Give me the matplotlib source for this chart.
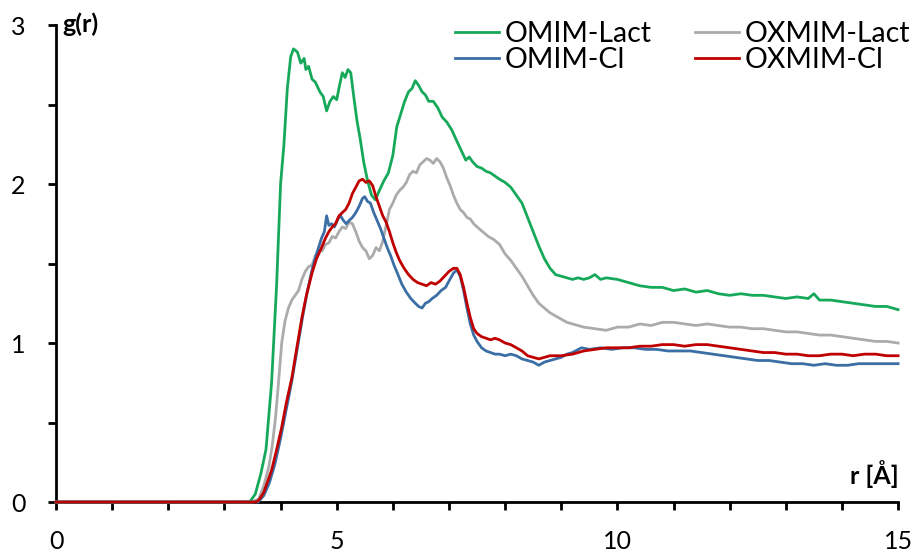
import matplotlib.pyplot as plt
from matplotlib.ticker import MultipleLocator

plt.rcParams['font.family'] = ['Lato', 'DejaVu Sans']

# Radial distribution functions.
r_omim_lact = [0, 3.45, 3.55, 3.65, 3.74, 3.84, 3.93, 4.0, 4.06, 4.12, 4.18, 4.23, 4.3, 4.36,
               4.42, 4.45, 4.5, 4.56, 4.62, 4.7, 4.76, 4.82, 4.88, 4.94, 5.0, 5.05, 5.1, 5.15,
               5.2, 5.25, 5.3, 5.36, 5.42, 5.48, 5.55, 5.62, 5.69, 5.76, 5.84, 5.92, 6.0, 6.07,
               6.14, 6.21, 6.28, 6.34, 6.4, 6.46, 6.52, 6.58, 6.64, 6.72, 6.8, 6.88, 6.96, 7.05,
               7.14, 7.22, 7.3, 7.36, 7.42, 7.5, 7.58, 7.66, 7.74, 7.82, 7.9, 8.0, 8.1, 8.2, 8.3,
               8.4, 8.5, 8.6, 8.7, 8.8, 8.9, 9.0, 9.1, 9.2, 9.3, 9.4, 9.5, 9.6, 9.7, 9.8, 10.0,
               10.2, 10.4, 10.6, 10.8, 11.0, 11.2, 11.4, 11.6, 11.8, 12.0, 12.2, 12.4, 12.6,
               12.8, 13.0, 13.2, 13.4, 13.5, 13.6, 13.8, 14.0, 14.2, 14.4, 14.6, 14.8, 15.0]
g_omim_lact = [0, 0, 0.05, 0.18, 0.33, 0.75, 1.37, 2.0, 2.25, 2.6, 2.8, 2.85, 2.83, 2.76,
               2.79, 2.72, 2.74, 2.66, 2.64, 2.58, 2.55, 2.46, 2.52, 2.55, 2.53, 2.62, 2.70, 2.67,
               2.72, 2.70, 2.56, 2.40, 2.28, 2.14, 2.02, 1.93, 1.90, 1.96, 2.02, 2.07, 2.18, 2.36,
               2.44, 2.52, 2.58, 2.60, 2.65, 2.62, 2.58, 2.56, 2.52, 2.52, 2.48, 2.42, 2.39, 2.34,
               2.27, 2.21, 2.15, 2.17, 2.14, 2.11, 2.10, 2.08, 2.07, 2.05, 2.03, 2.01, 1.98, 1.93,
               1.88, 1.79, 1.70, 1.61, 1.53, 1.47, 1.43, 1.42, 1.41, 1.40, 1.41, 1.40, 1.41, 1.43,
               1.40, 1.41, 1.40, 1.38, 1.36, 1.35, 1.35, 1.33, 1.34, 1.32, 1.33, 1.31, 1.30, 1.31,
               1.30, 1.30, 1.29, 1.28, 1.29, 1.28, 1.31, 1.27, 1.27, 1.26, 1.25, 1.24, 1.23, 1.23,
               1.21]

r_oxmim_lact = [0, 3.5, 3.61, 3.7, 3.79, 3.85, 3.91, 3.97, 4.02, 4.08, 4.14, 4.2, 4.26, 4.32,
                4.38, 4.44, 4.5, 4.56, 4.62, 4.68, 4.74, 4.8, 4.86, 4.92, 4.98, 5.04, 5.1, 5.16,
                5.22, 5.28, 5.34, 5.4, 5.46, 5.52, 5.58, 5.64, 5.7, 5.76, 5.82, 5.88, 5.94, 6.0,
                6.06, 6.12, 6.18, 6.24, 6.3, 6.36, 6.42, 6.48, 6.54, 6.6, 6.66, 6.72, 6.78, 6.84,
                6.9, 6.96, 7.02, 7.08, 7.14, 7.2, 7.26, 7.32, 7.38, 7.44, 7.5, 7.6, 7.7, 7.8, 7.9,
                8.0, 8.1, 8.2, 8.3, 8.4, 8.5, 8.6, 8.7, 8.8, 8.9, 9.0, 9.1, 9.2, 9.3, 9.4, 9.6, 9.8,
                10.0, 10.2, 10.4, 10.6, 10.8, 11.0, 11.2, 11.4, 11.6, 11.8, 12.0, 12.2, 12.4, 12.6,
                12.8, 13.0, 13.2, 13.4, 13.6, 13.8, 14.0, 14.2, 14.4, 14.6, 14.8, 15.0]
g_oxmim_lact = [0, 0, 0.02, 0.10, 0.22, 0.35, 0.53, 0.78, 1.0, 1.14, 1.22, 1.27, 1.30, 1.33,
                1.40, 1.45, 1.48, 1.49, 1.55, 1.58, 1.58, 1.62, 1.63, 1.67, 1.66, 1.70, 1.73, 1.72,
                1.76, 1.75, 1.70, 1.64, 1.60, 1.58, 1.53, 1.55, 1.60, 1.58, 1.64, 1.74, 1.84, 1.88,
                1.93, 1.96, 1.98, 2.01, 2.06, 2.08, 2.07, 2.12, 2.14, 2.16, 2.15, 2.13, 2.16, 2.14,
                2.10, 2.04, 1.99, 1.93, 1.88, 1.84, 1.82, 1.79, 1.78, 1.75, 1.73, 1.70, 1.67, 1.65,
                1.62, 1.56, 1.52, 1.47, 1.42, 1.36, 1.30, 1.25, 1.22, 1.19, 1.17, 1.15, 1.13, 1.12,
                1.11, 1.10, 1.09, 1.08, 1.10, 1.10, 1.12, 1.11, 1.13, 1.13, 1.12, 1.11, 1.12, 1.11,
                1.10, 1.10, 1.09, 1.09, 1.08, 1.07, 1.07, 1.06, 1.05, 1.05, 1.04, 1.03, 1.02, 1.01,
                1.01, 1.00]

r_omim_cl = [0, 3.6, 3.7, 3.8, 3.9, 4.0, 4.1, 4.2, 4.3, 4.4, 4.48, 4.56, 4.64, 4.73, 4.78, 4.82,
             4.86, 4.91, 4.96, 5.02, 5.07, 5.12, 5.17, 5.22, 5.28, 5.34, 5.4, 5.46, 5.5, 5.55,
             5.6, 5.66, 5.72, 5.78, 5.84, 5.9, 5.96, 6.02, 6.08, 6.16, 6.24, 6.32, 6.4, 6.46,
             6.52, 6.58, 6.64, 6.7, 6.78, 6.86, 6.94, 7.0, 7.08, 7.14, 7.2, 7.26, 7.32, 7.38,
             7.44, 7.5, 7.58, 7.66, 7.74, 7.82, 7.9, 8.0, 8.1, 8.2, 8.3, 8.4, 8.5, 8.6, 8.7, 8.8,
             8.9, 9.0, 9.1, 9.2, 9.36, 9.5, 9.7, 9.9, 10.1, 10.3, 10.5, 10.7, 10.9, 11.1, 11.3,
             11.5, 11.7, 11.9, 12.1, 12.3, 12.5, 12.7, 12.9, 13.1, 13.3, 13.5, 13.7, 13.9, 14.1,
             14.3, 14.5, 14.7, 15.0]
g_omim_cl = [0, 0, 0.04, 0.12, 0.24, 0.40, 0.58, 0.76, 0.97, 1.18, 1.33, 1.46, 1.56, 1.66, 1.70,
             1.80, 1.74, 1.75, 1.73, 1.78, 1.80, 1.77, 1.75, 1.77, 1.79, 1.82, 1.86, 1.91, 1.92,
             1.89, 1.88, 1.82, 1.77, 1.72, 1.66, 1.60, 1.55, 1.49, 1.44, 1.37, 1.32, 1.28, 1.25,
             1.23, 1.22, 1.25, 1.26, 1.28, 1.30, 1.33, 1.35, 1.39, 1.44, 1.46, 1.42, 1.33, 1.22,
             1.12, 1.05, 1.01, 0.97, 0.95, 0.94, 0.93, 0.93, 0.92, 0.93, 0.92, 0.90, 0.89, 0.88,
             0.86, 0.88, 0.89, 0.90, 0.91, 0.93, 0.94, 0.97, 0.96, 0.97, 0.96, 0.97, 0.97, 0.96,
             0.96, 0.95, 0.95, 0.95, 0.94, 0.93, 0.92, 0.91, 0.90, 0.89, 0.89, 0.88, 0.87, 0.87,
             0.86, 0.87, 0.86, 0.86, 0.87, 0.87, 0.87, 0.87]

r_oxmim_cl = [0, 3.55, 3.61, 3.7, 3.77, 3.84, 3.93, 4.02, 4.1, 4.2, 4.28, 4.38, 4.46, 4.56,
              4.64, 4.73, 4.8, 4.86, 4.92, 4.98, 5.04, 5.1, 5.16, 5.22, 5.28, 5.34, 5.4, 5.46,
              5.52, 5.58, 5.64, 5.7, 5.76, 5.82, 5.88, 5.94, 6.0, 6.06, 6.12, 6.2, 6.28, 6.36,
              6.44, 6.52, 6.6, 6.68, 6.76, 6.84, 6.92, 7.0, 7.08, 7.14, 7.2, 7.26, 7.32, 7.38,
              7.44, 7.5, 7.58, 7.66, 7.74, 7.82, 7.9, 8.0, 8.1, 8.2, 8.3, 8.4, 8.5, 8.6, 8.7, 8.8,
              9.0, 9.2, 9.4, 9.6, 9.8, 10.0, 10.2, 10.4, 10.6, 10.8, 11.0, 11.2, 11.4, 11.6, 11.8,
              12.0, 12.2, 12.4, 12.6, 12.8, 13.0, 13.2, 13.4, 13.6, 13.8, 14.0, 14.2, 14.4, 14.6,
              14.8, 15.0]
g_oxmim_cl = [0, 0, 0.01, 0.06, 0.13, 0.20, 0.33, 0.47, 0.62, 0.78, 0.95, 1.16, 1.30, 1.44,
              1.53, 1.60, 1.66, 1.70, 1.73, 1.75, 1.80, 1.82, 1.84, 1.88, 1.94, 1.98, 2.02, 2.03,
              2.01, 2.02, 1.99, 1.92, 1.86, 1.80, 1.76, 1.70, 1.63, 1.57, 1.52, 1.47, 1.43, 1.40,
              1.38, 1.37, 1.36, 1.38, 1.37, 1.39, 1.42, 1.45, 1.47, 1.47, 1.43, 1.35, 1.25, 1.16,
              1.09, 1.06, 1.04, 1.03, 1.02, 1.03, 1.02, 1.00, 0.99, 0.97, 0.95, 0.92, 0.91, 0.90,
              0.91, 0.92, 0.92, 0.93, 0.95, 0.96, 0.97, 0.97, 0.97, 0.98, 0.98, 0.99, 0.99, 0.98,
              0.99, 0.99, 0.98, 0.97, 0.96, 0.95, 0.94, 0.94, 0.93, 0.93, 0.92, 0.92, 0.93, 0.93,
              0.92, 0.93, 0.93, 0.92, 0.92]

fig = plt.figure(figsize=(9.23, 5.56), dpi=100)
ax = fig.add_axes([0.0607, 0.0971, 0.9123, 0.8579])

lw = 2.0
l_gray, = ax.plot(r_oxmim_lact, g_oxmim_lact, color='#ABABAB', lw=lw, zorder=3, clip_on=False)
l_green, = ax.plot(r_omim_lact, g_omim_lact, color='#17A95A', lw=lw, zorder=3, clip_on=False)
l_blue, = ax.plot(r_omim_cl, g_omim_cl, color='#3A6EA5', lw=lw, zorder=3, clip_on=False)
l_red, = ax.plot(r_oxmim_cl, g_oxmim_cl, color='#C00000', lw=lw, zorder=3, clip_on=False)

ax.set_xlim(0, 15)
ax.set_ylim(0, 3)

# Axis styling: only left and bottom spines, ticks pointing out.
for side in ['top', 'right']:
    ax.spines[side].set_visible(False)
for side in ['left', 'bottom']:
    ax.spines[side].set_linewidth(2.0)

ax.xaxis.set_major_locator(MultipleLocator(5))
ax.xaxis.set_minor_locator(MultipleLocator(1))
ax.yaxis.set_major_locator(MultipleLocator(1))
ax.yaxis.set_minor_locator(MultipleLocator(0.5))
ax.tick_params(axis='both', which='both', direction='out', width=2.0, length=6)
ax.tick_params(axis='x', which='major', pad=14, labelsize=18)
ax.tick_params(axis='y', which='major', pad=16, labelsize=18)

ax.text(0.12, 3.08, 'g(r)', fontsize=18, fontweight='bold', va='top', ha='left')
ax.text(15.02, 0.09, 'r [Å]', fontsize=18, fontweight='bold', va='bottom', ha='right')

ax.legend([l_green, l_blue, l_gray, l_red],
          ['OMIM-Lact', 'OMIM-Cl', 'OXMIM-Lact', 'OXMIM-Cl'],
          ncol=2, frameon=False, fontsize=20.5, loc='upper left',
          bbox_to_anchor=(0.493, 0.963), bbox_transform=fig.transFigure,
          borderaxespad=0, borderpad=0, handlelength=1.55, handletextpad=0.2,
          columnspacing=1.5, labelspacing=0.0)

fig.savefig('out.png', dpi=100)
